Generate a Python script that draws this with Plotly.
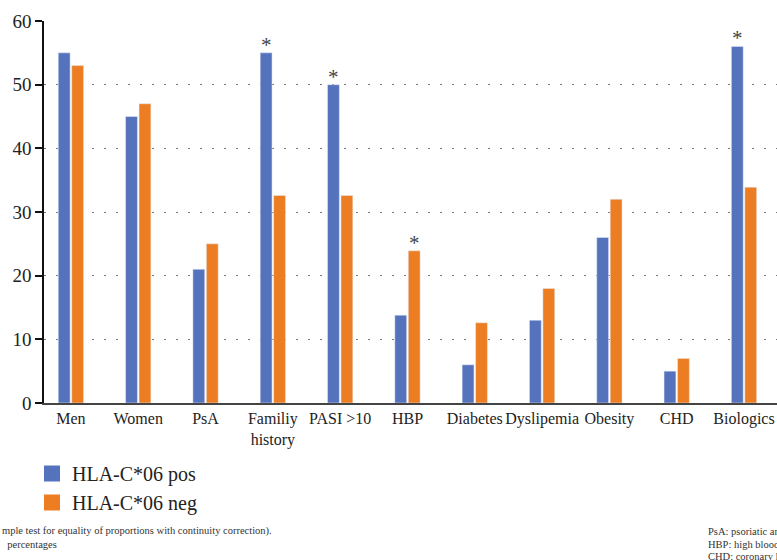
import plotly.graph_objects as go

categories = ["Men", "Women", "PsA", "Familiy<br>history", "PASI >10", "HBP",
              "Diabetes", "Dyslipemia", "Obesity", "CHD", "Biologics"]
pos_values = [55, 45, 21, 55, 50, 13.8, 6, 13, 26, 5, 56]
neg_values = [53, 47, 25, 32.6, 32.6, 23.9, 12.6, 18, 32, 7, 33.9]
pos_signif = [False, False, False, True, True, False, False, False, False, False, True]
neg_signif = [False, False, False, False, False, True, False, False, False, False, False]
y_ticks = [0, 10, 20, 30, 40, 50, 60]
series_names = ["HLA-C*06 pos", "HLA-C*06 neg"]

BLUE = "#5572BC"
ORANGE = "#ED7D22"
SERIF = "Liberation Serif"

W, H = 777, 560
L, T = 44, 21
BOTTOM = 403
B = H - BOTTOM
plot_w = W - L
plot_h = BOTTOM - T

def px_x(p):  # pixel -> paper x
    return (p - L) / plot_w

def px_y(p):  # pixel -> paper y
    return (BOTTOM - p) / plot_h

fig = go.Figure()
fig.add_trace(go.Bar(x=categories, y=pos_values, name=series_names[0],
                     marker_color=BLUE, showlegend=False))
fig.add_trace(go.Bar(x=categories, y=neg_values, name=series_names[1],
                     marker_color=ORANGE, showlegend=False))

# significance asterisks above the bars (bar centre = category index -/+ 0.1)
for vals, sig, off in [(pos_values, pos_signif, -0.1), (neg_values, neg_signif, 0.1)]:
    for i, (v, s) in enumerate(zip(vals, sig)):
        if s:
            fig.add_annotation(x=i + off, y=v, xref="x", yref="y", text="*",
                               showarrow=False, yanchor="bottom", yshift=-6,
                               font=dict(family=SERIF, size=21, color="#444"))

# legend entries with 16px squares
for name, col in zip(series_names, [BLUE, ORANGE]):
    fig.add_trace(go.Scatter(x=[None], y=[None], mode="markers", name=name,
                             marker=dict(symbol="square", size=16, color=col,
                                         line=dict(width=0))))

fig.update_layout(
    width=W, height=H,
    margin=dict(l=L, r=0, t=T, b=B, pad=0, autoexpand=False),
    paper_bgcolor="white", plot_bgcolor="white",
    barmode="group", bargap=0.6, bargroupgap=0.12,
    font=dict(family=SERIF, color="#222"),
    showlegend=True,
    legend=dict(x=px_x(32), y=px_y(454), xanchor="left", yanchor="top",
                font=dict(family=SERIF, size=20, color="#222"),
                bgcolor="rgba(0,0,0,0)", tracegroupgap=0, itemwidth=30),
    xaxis=dict(range=[-0.4, 10.49], showline=True, linecolor="#444", linewidth=1.5,
               ticks="", tickfont=dict(family=SERIF, size=16, color="#222"),
               fixedrange=True, showgrid=False, automargin=False),
    yaxis=dict(range=[0, 60], tickvals=y_ticks, showline=True, linecolor="#111",
               linewidth=1.5, ticks="outside", ticklen=7, tickcolor="#111",
               tickwidth=2,
               tickfont=dict(family=SERIF, size=19, color="#222"),
               showgrid=True, gridcolor="#777", gridwidth=1, griddash="2px,10px",
               zeroline=False, fixedrange=True, automargin=False),
)

foot = dict(family=SERIF, size=10.5, color="#333")
notes_left = [("mple test for equality of proportions with continuity correction).", 531),
              ("  percentages", 544)]
for txt, py in notes_left:
    fig.add_annotation(text=txt, xref="paper", yref="paper", x=px_x(0), y=px_y(py),
                       xanchor="left", yanchor="middle", showarrow=False, font=foot)
notes_right = [("PsA: psoriatic arthritis", 531), ("HBP: high blood pressure", 544),
               ("CHD: coronary heart disease", 556)]
for txt, py in notes_right:
    fig.add_annotation(text=txt, xref="paper", yref="paper", x=px_x(706), y=px_y(py),
                       xanchor="left", yanchor="middle", showarrow=False, font=foot)

fig.write_html("out.html", config={"displayModeBar": False},
               post_script="document.body.style.margin='0';document.body.style.overflow='hidden';")
